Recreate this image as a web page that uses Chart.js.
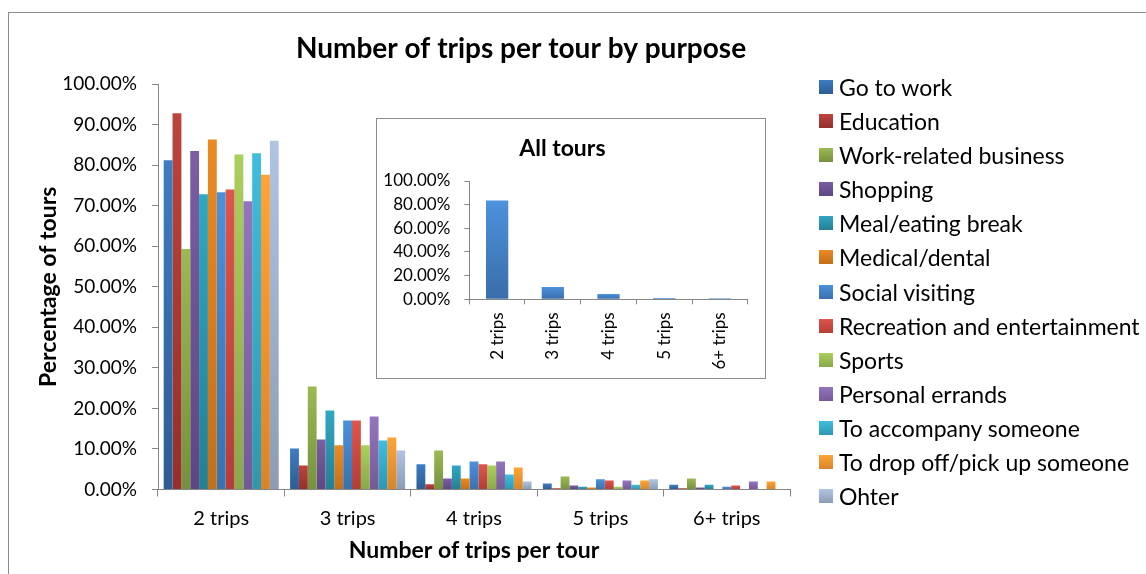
<!DOCTYPE html>
<html>
<head>
<meta charset="utf-8">
<script src="https://cdn.jsdelivr.net/npm/chart.js@4.4.0/dist/chart.umd.min.js"></script>
<style>
  html, body { margin:0; padding:0; background:#fff; width:1146px; height:574px; overflow:hidden; position:relative; font-family: Lato, 'Open Sans', sans-serif; }
  #frame { position:absolute; left:8px; top:12px; width:1200px; height:600px; border:1px solid #8c8c8c; }
  #main { position:absolute; left:0; top:0; }
  #insetBox { position:absolute; left:376px; top:118px; width:388px; height:259px; border:1px solid #8c8c8c; background:#fff; }
  #inset { position:absolute; left:0; top:0; }
  #legend { position:absolute; left:819px; top:70px; }
  .li { display:flex; align-items:center; height:34.08px; font-size:23px; color:#000; white-space:nowrap; }
  .sw { width:14px; height:14px; margin-right:6px; flex:none; }
</style>
</head>
<body>
<div id="frame"></div>
<canvas id="main" width="1040" height="574"></canvas>
<div id="insetBox"><canvas id="inset" width="388" height="259"></canvas></div>
<div id="legend"></div>
<script>
// ---- data ----
const categories = ['2 trips', '3 trips', '4 trips', '5 trips', '6+ trips'];
const purposes = ['Go to work', 'Education', 'Work-related business', 'Shopping', 'Meal/eating break',
  'Medical/dental', 'Social visiting', 'Recreation and entertainment', 'Sports', 'Personal errands',
  'To accompany someone', 'To drop off/pick up someone', 'Ohter'];
const goToWork        = [81.2, 10.1, 6.2, 1.5, 1.2];
const education       = [92.8, 5.9, 1.3, 0.3, 0.3];
const workRelated     = [59.3, 25.4, 9.6, 3.2, 2.7];
const shopping        = [83.5, 12.3, 2.7, 1.0, 0.5];
const mealBreak       = [72.8, 19.5, 5.9, 0.7, 1.2];
const medicalDental   = [86.3, 10.9, 2.7, 0.5, 0.0];
const socialVisiting  = [73.3, 17.0, 6.9, 2.5, 0.7];
const recreation      = [74.0, 17.0, 6.2, 2.2, 1.0];
const sports          = [82.6, 10.9, 5.9, 0.7, 0.0];
const personalErrands = [71.1, 18.0, 6.9, 2.2, 2.0];
const accompany       = [82.9, 12.1, 3.7, 1.2, 0.0];
const dropOffPickUp   = [77.6, 12.8, 5.4, 2.2, 2.0];
const other           = [86.0, 9.6, 2.0, 2.5, 0.0];
const seriesValues = [goToWork, education, workRelated, shopping, mealBreak, medicalDental,
  socialVisiting, recreation, sports, personalErrands, accompany, dropOffPickUp, other];
const allTours = [83.6, 10.4, 4.4, 1.0, 0.9];

const mainTitle = 'Number of trips per tour by purpose';
const xTitle = 'Number of trips per tour';
const yTitle = 'Percentage of tours';
const insetTitle = 'All tours';
const yTickLabels = ['0.00%', '10.00%', '20.00%', '30.00%', '40.00%', '50.00%', '60.00%', '70.00%', '80.00%', '90.00%', '100.00%'];
const insetTickLabels = ['0.00%', '20.00%', '40.00%', '60.00%', '80.00%', '100.00%'];

// ---- styles ----
const colorTop    = ['#3d7dc1','#bd443d','#9bb954','#7c5ea3','#30a7c3','#ea8a23','#4b91da','#de554b','#abcf5c','#9574bd','#40bedd','#ffa335','#afc4e3'];
const colorBottom = ['#2d5c92','#93302b','#76913d','#5d4781','#247f94','#c1701b','#3a71ae','#b23e37','#89a849','#735a95','#2f97af','#d8852a','#8c9cb5'];
const insetTop = '#4c92dc', insetBottom = '#3a6dab';
const FONT = "Lato, 'Open Sans', sans-serif";
const AXIS = '#868686';
Chart.defaults.font.family = FONT;
Chart.defaults.color = '#000';

function gradientFor(top, bottom) {
  return (context) => {
    const chart = context.chart;
    const {ctx, chartArea, scales} = chart;
    if (!chartArea || context.type !== 'data' || !scales.y) return top;
    const y0 = scales.y.getPixelForValue(0);
    const y1 = scales.y.getPixelForValue(context.raw);
    if (!isFinite(y1) || Math.abs(y0 - y1) < 1) return top;
    const g = ctx.createLinearGradient(0, y1, 0, y0);
    g.addColorStop(0, top);
    g.addColorStop(1, bottom);
    return g;
  };
}

// Centre the title over the frame rather than over the plot only
const titleCentre = { id: 'titleCentre', afterLayout(chart, args, opts) {
  const t = chart.titleBlock;
  if (t) { t.left = opts.left; t.right = opts.right; t.width = opts.right - opts.left; }
}};

const mainChart = new Chart(document.getElementById('main'), {
  type: 'bar',
  data: {
    labels: categories,
    datasets: purposes.map((p, i) => ({
      label: p,
      data: seriesValues[i],
      backgroundColor: gradientFor(colorTop[i], colorBottom[i]),
      borderWidth: 0,
      categoryPercentage: 0.91,
      barPercentage: 1.0
    }))
  },
  options: {
    responsive: false,
    animation: false,
    layout: { padding: { left: 8, right: 250, top: 12, bottom: 0 } },
    plugins: {
      legend: { display: false },
      tooltip: { enabled: false },
      titleCentre: { left: 8, right: 1034 },
      title: {
        display: true, text: mainTitle, color: '#000',
        font: { family: FONT, size: 28, weight: 'bold', lineHeight: 1.2 },
        padding: { top: 19.7, bottom: 18.7 }
      }
    },
    scales: {
      x: {
        grid: { display: true, drawOnChartArea: false, tickLength: 7, color: AXIS, offset: true },
        border: { color: AXIS },
        ticks: { color: '#000', font: { size: 20 }, padding: 10, maxRotation: 0 },
        title: { display: true, text: xTitle, color: '#000', font: { size: 23, weight: 'bold', lineHeight: 1.2 }, padding: { top: 0, bottom: 10 } },
        afterFit: (s) => { s.height = 84.5; }
      },
      y: {
        min: 0, max: 100,
        ticks: { stepSize: 10, callback: (v, i) => yTickLabels[i], color: '#000', font: { size: 19 }, padding: 15 },
        grid: { display: true, drawOnChartArea: false, tickLength: 6, color: AXIS },
        border: { color: AXIS },
        title: { display: true, text: yTitle, color: '#000', font: { size: 23, weight: 'bold', lineHeight: 1.2 }, padding: { top: 27, bottom: 0 } },
        afterFit: (s) => { s.width = 150; }
      }
    }
  },
  plugins: [titleCentre]
});

// HTML legend built from the chart's datasets
const legendEl = document.getElementById('legend');
mainChart.data.datasets.forEach((ds, i) => {
  const row = document.createElement('div');
  row.className = 'li';
  const sw = document.createElement('span');
  sw.className = 'sw';
  sw.style.background = 'linear-gradient(' + colorTop[i] + ',' + colorBottom[i] + ')';
  const tx = document.createElement('span');
  tx.textContent = ds.label;
  row.appendChild(sw); row.appendChild(tx);
  legendEl.appendChild(row);
});

new Chart(document.getElementById('inset'), {
  type: 'bar',
  data: {
    labels: categories,
    datasets: [{
      label: insetTitle,
      data: allTours,
      backgroundColor: gradientFor(insetTop, insetBottom),
      borderWidth: 0,
      barPercentage: 0.4,
      categoryPercentage: 1.0
    }]
  },
  options: {
    responsive: false,
    animation: false,
    layout: { padding: { left: 0, right: 17.3, top: 0, bottom: 0 } },
    plugins: {
      legend: { display: false },
      tooltip: { enabled: false },
      title: {
        display: true, text: insetTitle, color: '#000',
        font: { size: 23, weight: 'bold', lineHeight: 1.2 },
        padding: { top: 16.2, bottom: 18.2 }
      }
    },
    scales: {
      x: {
        grid: { display: true, drawOnChartArea: false, tickLength: 5, color: AXIS, offset: true },
        border: { color: AXIS },
        ticks: { color: '#000', font: { size: 17 }, padding: 8, minRotation: 90, maxRotation: 90 },
        afterFit: (s) => { s.height = 78.7; }
      },
      y: {
        min: 0, max: 100,
        ticks: { stepSize: 20, callback: (v, i) => insetTickLabels[i], color: '#000', font: { size: 17 }, padding: 14 },
        grid: { display: true, drawOnChartArea: false, tickLength: 5, color: AXIS },
        border: { color: AXIS },
        afterFit: (s) => { s.width = 92.3; }
      }
    }
  }
});
</script>
</body>
</html>
